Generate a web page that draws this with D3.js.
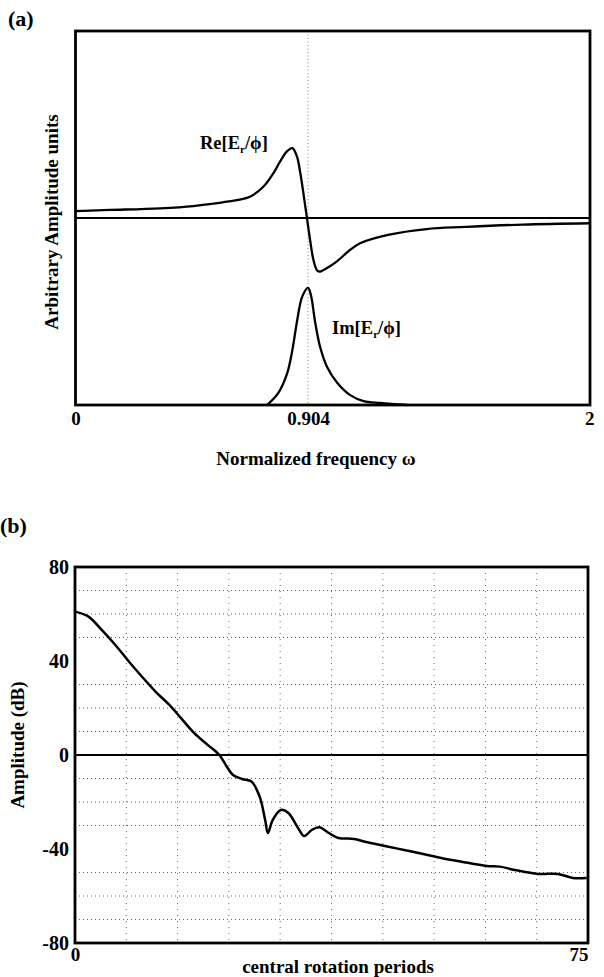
<!DOCTYPE html>
<html>
<head>
<meta charset="utf-8">
<script src="https://cdn.jsdelivr.net/npm/d3@7"></script>
<style>
  body { margin: 0; background: #fff; }
  svg { display: block; }
  text { font-family: "Liberation Serif", "DejaVu Serif", serif; font-weight: bold; fill: #000; }
</style>
</head>
<body>
<div id="chart"></div>
<script>
// ---- panel (a): response near the resonance ----
var freqTicks = [0, 0.904, 2];
var resonance = 0.904;

var reOmega = [0, 0.134, 0.328, 0.458, 0.588, 0.678, 0.73, 0.769, 0.795, 0.821, 0.843, 0.861, 0.874, 0.886, 0.899,
               0.912, 0.925, 0.938, 0.948, 0.976, 1.015, 1.067, 1.106, 1.215, 1.365, 1.515, 1.74, 2.0];
var reValue = [0.037, 0.043, 0.052, 0.064, 0.087, 0.114, 0.167, 0.239, 0.301, 0.355, 0.374, 0.328, 0.239, 0.132, 0.007,
               -0.118, -0.225, -0.278, -0.287, -0.269, -0.233, -0.171, -0.135, -0.09, -0.059, -0.048, -0.035, -0.028];

var imOmega = [0.744, 0.788, 0.823, 0.843, 0.862, 0.881, 0.904, 0.915, 0.932, 0.951, 0.978, 1.018, 1.068, 1.12, 1.185, 1.29];
var imValue = [0, 0.064, 0.171, 0.294, 0.455, 0.578, 0.626, 0.588, 0.439, 0.31, 0.203, 0.118, 0.053, 0.021, 0.011, 0];

// ---- panel (b): amplitude in dB vs time ----
var periodTicks = [0, 75];
var dbTicks = [80, 40, 0, -40, -80];
var gridPeriods = [7.5, 15, 22.5, 30, 37.5, 45, 52.5, 60, 67.5];
var gridDb = [70, 60, 50, 30, 20, 10, -10, -20, -30, -50, -60, -70];

var periods = [0, 1.97, 3.9, 5.9, 7.9, 9.8, 11.8, 13.8, 15.5, 17.4, 19.4, 21.1, 22.2, 23.1, 24.4, 25.8, 27, 27.8, 28.2,
               28.9, 30.1, 31.2, 32.6, 33.5, 34.6, 35.7, 37.1, 38.5, 40.8, 42.4, 45.3, 48.1, 50.9, 53.7, 56.5, 60.2,
               62.1, 64.3, 67.7, 70.6, 72.8, 74.8];
var amplitudeDb = [61, 58.9, 53.2, 46.8, 39.7, 33.3, 26.9, 21.3, 15.7, 9.4, 4.3, 0, -5, -8.5, -10.2, -11.3, -17.7, -27.7, -33.2,
                   -27.7, -23.4, -24.7, -31, -34.5, -31.9, -30.7, -33.2, -35.3, -35.7, -36.9, -38.7, -40.4, -42.1, -43.9, -45.4, -47.2,
                   -47.5, -48.9, -50.6, -50.6, -52.3, -52.3];

var W = 604, H = 977;
var svg = d3.select("#chart").append("svg")
    .attr("width", W)
    .attr("height", H);

// ===== panel (a) =====
var a = {left: 75.5, right: 590, top: 31, bottom: 405};

var xa = d3.scaleLinear().domain([0, 2]).range([a.left, a.right]);
var ya = d3.scaleLinear().domain([-1, 1]).range([a.bottom, a.top]);

// dotted marker at the resonance frequency
svg.append("line")
    .attr("x1", xa(resonance)).attr("x2", xa(resonance))
    .attr("y1", a.top).attr("y2", a.bottom)
    .attr("stroke", "#777")
    .attr("stroke-width", 0.9)
    .attr("stroke-dasharray", "1,2.5");

// zero line
svg.append("line")
    .attr("x1", a.left).attr("x2", a.right)
    .attr("y1", ya(0)).attr("y2", ya(0))
    .attr("stroke", "#000")
    .attr("stroke-width", 1.8);

var reLine = d3.line()
    .x(function(d, i) { return xa(reOmega[i]); })
    .y(function(d) { return ya(d); })
    .curve(d3.curveCatmullRom.alpha(0.5));

svg.append("path")
    .attr("d", reLine(reValue))
    .attr("fill", "none")
    .attr("stroke", "#000")
    .attr("stroke-width", 2.3);

// Im is drawn sitting on the bottom of the frame
var imLine = d3.line()
    .x(function(d, i) { return xa(imOmega[i]); })
    .y(function(d) { return ya(-1 + d); })
    .curve(d3.curveCatmullRom.alpha(0.5));

svg.append("path")
    .attr("d", imLine(imValue))
    .attr("fill", "none")
    .attr("stroke", "#000")
    .attr("stroke-width", 2.3);

// frame
svg.append("rect")
    .attr("x", a.left).attr("y", a.top)
    .attr("width", a.right - a.left).attr("height", a.bottom - a.top)
    .attr("fill", "none")
    .attr("stroke", "#000")
    .attr("stroke-width", 2.8);

// x tick labels
var axA = svg.append("g")
    .attr("transform", "translate(0," + a.bottom + ")")
    .call(d3.axisBottom(xa).tickValues(freqTicks).tickSize(0).tickPadding(7)
          .tickFormat(function(d) { return String(d); }));
axA.select(".domain").remove();
axA.selectAll("text")
    .attr("font-family", "Liberation Serif")
    .attr("font-weight", "bold")
    .attr("font-size", 19)
    .attr("fill", "#000");
axA.selectAll(".tick").filter(function(d) { return d === 2; }).select("text").attr("text-anchor", "end").attr("dx", 4);

svg.append("text")
    .attr("x", 316).attr("y", 465)
    .attr("text-anchor", "middle")
    .attr("font-size", 19)
    .text("Normalized frequency  \u03c9");

svg.append("text")
    .attr("transform", "translate(58,222) rotate(-90)")
    .attr("text-anchor", "middle")
    .attr("font-size", 19)
    .text("Arbitrary Amplitude units");

svg.append("text")
    .attr("x", 8).attr("y", 26)
    .attr("font-size", 22)
    .text("(a)");

// curve labels with subscript r
function subLabel(x, y, head) {
  var t = svg.append("text").attr("x", x).attr("y", y).attr("font-size", 18.5);
  t.append("tspan").text(head + "[E");
  t.append("tspan").attr("font-size", 11).attr("dy", 4).text("r");
  t.append("tspan").attr("dy", -4).text("/\u03d5]");
}
subLabel(200, 149, "Re");
subLabel(332, 334, "Im");

// ===== panel (b) =====
var b = {left: 75, right: 588, top: 567, bottom: 943};

var xb = d3.scaleLinear().domain([0, 75]).range([b.left, b.right]);
var yb = d3.scaleLinear().domain([-80, 80]).range([b.bottom, b.top]);

var grid = svg.append("g")
    .attr("stroke", "#333")
    .attr("stroke-width", 1)
    .attr("stroke-dasharray", "1,3")
    .attr("opacity", 0.75);

grid.selectAll("line.h")
    .data(gridDb)
    .enter().append("line")
      .attr("class", "h")
      .attr("x1", b.left).attr("x2", b.right)
      .attr("y1", function(d) { return yb(d); })
      .attr("y2", function(d) { return yb(d); });

grid.selectAll("line.v")
    .data(gridPeriods)
    .enter().append("line")
      .attr("class", "v")
      .attr("y1", b.top).attr("y2", b.bottom)
      .attr("x1", function(d) { return xb(d); })
      .attr("x2", function(d) { return xb(d); })
      .attr("stroke-dasharray", "1,5");

svg.append("line")
    .attr("x1", b.left).attr("x2", b.right)
    .attr("y1", yb(0)).attr("y2", yb(0))
    .attr("stroke", "#000")
    .attr("stroke-width", 1.8);

var dbLine = d3.line()
    .x(function(d, i) { return xb(periods[i]); })
    .y(function(d) { return yb(d); })
    .curve(d3.curveCatmullRom.alpha(0.5));

svg.append("path")
    .attr("d", dbLine(amplitudeDb))
    .attr("fill", "none")
    .attr("stroke", "#000")
    .attr("stroke-width", 2.5);

svg.append("rect")
    .attr("x", b.left).attr("y", b.top)
    .attr("width", b.right - b.left).attr("height", b.bottom - b.top)
    .attr("fill", "none")
    .attr("stroke", "#000")
    .attr("stroke-width", 2.8);

// plain hyphen for negatives, like the original
var ayB = svg.append("g")
    .attr("transform", "translate(" + b.left + ",0)")
    .call(d3.axisLeft(yb).tickValues(dbTicks).tickSize(0).tickPadding(6)
          .tickFormat(function(d) { return String(d); }));
ayB.select(".domain").remove();
ayB.selectAll("text")
    .attr("font-family", "Liberation Serif")
    .attr("font-weight", "bold")
    .attr("font-size", 20)
    .attr("fill", "#000");

var axB = svg.append("g")
    .attr("transform", "translate(0," + b.bottom + ")")
    .call(d3.axisBottom(xb).tickValues(periodTicks).tickSize(0).tickPadding(5)
          .tickFormat(function(d) { return String(d); }));
axB.select(".domain").remove();
axB.selectAll("text")
    .attr("font-family", "Liberation Serif")
    .attr("font-weight", "bold")
    .attr("font-size", 19)
    .attr("fill", "#000");
axB.selectAll(".tick").filter(function(d) { return d === 75; }).select("text").attr("text-anchor", "end");

svg.append("text")
    .attr("x", 338).attr("y", 973)
    .attr("text-anchor", "middle")
    .attr("font-size", 19)
    .text("central rotation periods");

svg.append("text")
    .attr("transform", "translate(24,745) rotate(-90)")
    .attr("text-anchor", "middle")
    .attr("font-size", 19)
    .text("Amplitude (dB)");

svg.append("text")
    .attr("x", 0).attr("y", 533)
    .attr("font-size", 22)
    .text("(b)");
</script>
</body>
</html>
